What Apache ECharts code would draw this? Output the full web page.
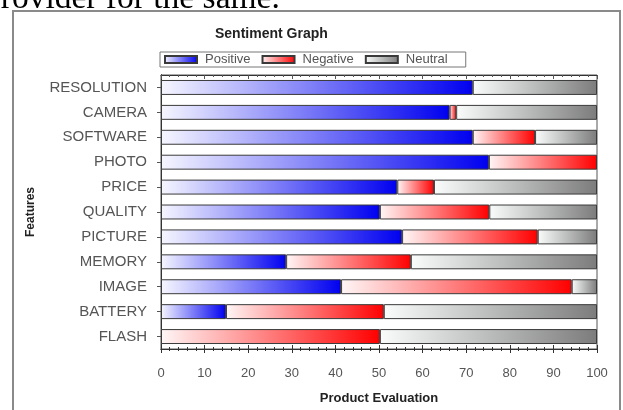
<!DOCTYPE html>
<html>
<head>
<meta charset="utf-8">
<script src="https://cdn.jsdelivr.net/npm/echarts@6/dist/echarts.min.js"></script>
<style>
  html, body { margin: 0; padding: 0; background: #fff; }
  #chart { width: 623px; height: 410px; }
</style>
</head>
<body>
<div id="chart"></div>
<script>
// values (percent of reviews per feature)
const features = ['RESOLUTION', 'CAMERA', 'SOFTWARE', 'PHOTO', 'PRICE', 'QUALITY',
  'PICTURE', 'MEMORY', 'IMAGE', 'BATTERY', 'FLASH']
const positive = [71.5, 66.2, 71.5, 75.2, 54.2, 50.2, 55.3, 28.7, 41.3, 14.9, 0]
const negative = [0, 1.5, 14.3, 24.8, 8.4, 25.1, 31.1, 28.6, 52.9, 36.2, 50.2]
const neutral = [28.5, 32.3, 14.2, 0, 37.4, 24.7, 13.6, 42.7, 5.8, 48.9, 49.8]
const xTicks = [0, 10, 20, 30, 40, 50, 60, 70, 80, 90, 100]

const chart = echarts.init(document.getElementById('chart'), null, { renderer: 'canvas' })

const grad = (from, to) => new echarts.graphic.LinearGradient(0, 0, 1, 0, [
  { offset: 0, color: from },
  { offset: 1, color: to }
])

const labelFont = 'Liberation Sans, Arial, sans-serif'

const makeSeries = (name, values, color) => ({
  name,
  type: 'bar',
  stack: 'all',
  xAxisIndex: 0,
  yAxisIndex: 0,
  barWidth: '60%',
  data: values.map(v => (v === 0 ? '-' : v)),
  itemStyle: {
    color,
    borderColor: '#3a3a3a',
    borderWidth: 1
  },
  emphasis: { disabled: true },
  animation: false
})

const xBase = {
  type: 'value',
  min: xTicks[0],
  max: xTicks[xTicks.length - 1],
  interval: 10,
  splitLine: { show: false },
  axisLine: { show: true, lineStyle: { color: '#333' } }
}

const yBase = {
  type: 'category',
  data: features,
  inverse: true,
  axisLine: { show: true, lineStyle: { color: '#333' } },
  splitLine: { show: false }
}

const option = {
  backgroundColor: '#fff',
  animation: false,
  title: {
    text: 'Sentiment Graph',
    left: 210,
    top: 22,
    textStyle: { fontFamily: labelFont, fontSize: 14, fontWeight: 'bold', color: '#222' }
  },
  legend: {
    left: 160,
    top: 52,
    padding: [1, 18, 1, 4],
    itemGap: 11,
    itemWidth: 32,
    itemHeight: 7,
    borderColor: '#777',
    borderWidth: 1,
    icon: 'rect',
    textStyle: { fontFamily: labelFont, fontSize: 13, color: '#555', padding: [0, 0, 0, 3] },
    data: ['Positive', 'Negative', 'Neutral']
  },
  grid: { left: 161, right: 26, top: 75, bottom: 57, show: true, borderColor: '#555', borderWidth: 1 },
  graphic: [
    {
      type: 'rect',
      shape: { x: 13, y: 11, width: 607, height: 420 },
      z: -1,
      style: { fill: '#fff', stroke: '#8a8a8a', lineWidth: 2 }
    },
    {
      // cut-off line of the surrounding document text
      type: 'text',
      x: -16,
      y: -18,
      z: 10,
      style: {
        text: 'provider for the same.',
        font: '33.5px "Liberation Serif", "Times New Roman", serif',
        fill: '#000'
      }
    }
  ],
  xAxis: [
    Object.assign({}, xBase, {
      position: 'bottom',
      axisTick: { show: true, length: 4, lineStyle: { color: '#333' } },
      minorTick: { show: true, splitNumber: 5, length: 2, lineStyle: { color: '#333' } },
      axisLabel: { color: '#555', fontFamily: labelFont, fontSize: 13, margin: 18 },
      name: 'Product Evaluation',
      nameLocation: 'middle',
      nameGap: 43,
      nameTextStyle: { fontFamily: labelFont, fontSize: 13, fontWeight: 'bold', color: '#222' }
    }),
    Object.assign({}, xBase, {
      position: 'bottom',
      axisTick: { show: true, inside: true, length: 4, lineStyle: { color: '#333' } },
      minorTick: { show: true, splitNumber: 5, length: 2, lineStyle: { color: '#333' } },
      axisLabel: { show: false }
    }),
    Object.assign({}, xBase, {
      position: 'top',
      axisTick: { show: true, inside: true, length: 4, lineStyle: { color: '#555' } },
      minorTick: { show: true, splitNumber: 5, length: 2, lineStyle: { color: '#555' } },
      axisLabel: { show: false }
    })
  ],
  yAxis: [
    Object.assign({}, yBase, {
      position: 'left',
      axisTick: { show: true, alignWithLabel: true, length: 4, lineStyle: { color: '#333' } },
      axisLabel: { color: '#555', fontFamily: labelFont, fontSize: 15, margin: 14 },
      name: 'Features',
      nameLocation: 'middle',
      nameGap: 124,
      nameTextStyle: { fontFamily: labelFont, fontSize: 12, fontWeight: 'bold', color: '#222' }
    }),
    Object.assign({}, yBase, {
      position: 'left',
      axisTick: { show: true, inside: true, alignWithLabel: true, length: 4, lineStyle: { color: '#333' } },
      axisLabel: { show: false }
    }),
    Object.assign({}, yBase, {
      position: 'right',
      axisTick: { show: true, inside: true, alignWithLabel: true, length: 4, lineStyle: { color: '#555' } },
      axisLabel: { show: false }
    })
  ],
  series: [
    makeSeries('Positive', positive, grad('#f6f6ff', '#0000f0')),
    makeSeries('Negative', negative, grad('#fff6f6', '#ff0000')),
    makeSeries('Neutral', neutral, grad('#fafcfc', '#7c7c7c'))
  ]
}

chart.setOption(option)
</script>
</body>
</html>
